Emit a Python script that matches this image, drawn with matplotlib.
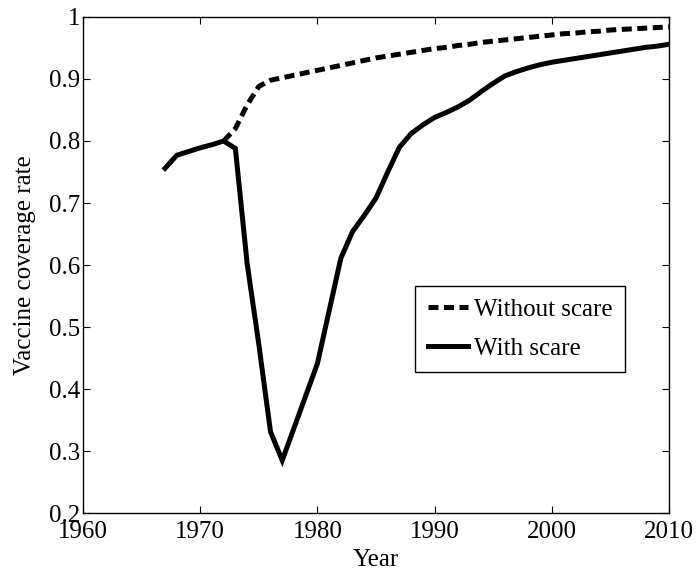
import numpy as np
import matplotlib.pyplot as plt

# values
years_scare = list(range(1967, 2011))
with_scare = [0.756, 0.777, 0.783, 0.789, 0.794, 0.800, 0.788, 0.603, 0.472, 0.331,
              0.285, 0.337, 0.389, 0.441, 0.526, 0.611, 0.654, 0.680, 0.708, 0.750,
              0.790, 0.812, 0.826, 0.838, 0.846, 0.855, 0.866, 0.880, 0.893, 0.905,
              0.912, 0.918, 0.923, 0.927, 0.930, 0.933, 0.936, 0.939, 0.942, 0.945,
              0.948, 0.951, 0.953, 0.956]

years_noscare = list(range(1972, 2011))
without_scare = [0.800, 0.820, 0.858, 0.888, 0.898, 0.902, 0.906, 0.910, 0.914, 0.918,
                 0.922, 0.926, 0.930, 0.934, 0.937, 0.940, 0.943, 0.946, 0.949, 0.951,
                 0.954, 0.956, 0.959, 0.961, 0.963, 0.965, 0.967, 0.969, 0.971, 0.973,
                 0.974, 0.976, 0.977, 0.979, 0.980, 0.981, 0.982, 0.983, 0.984]

xticks = [1960, 1970, 1980, 1990, 2000, 2010]
yticks = [0.2, 0.3, 0.4, 0.5, 0.6, 0.7, 0.8, 0.9, 1.0]

plt.rcParams['font.family'] = ['Liberation Serif', 'DejaVu Serif']
plt.rcParams['font.size'] = 18

fig = plt.figure(figsize=(7, 5.72), dpi=100)
ax = fig.add_axes([0.1186, 0.1031, 0.8371, 0.8672])

ax.plot(years_noscare, without_scare, color='k', lw=3.6, dashes=(2.0, 1.1),
        dash_capstyle='butt', label='Without scare')
ax.plot(years_scare, with_scare, color='k', lw=3.6, solid_joinstyle='miter',
        label='With scare')

ax.set_xlim(1960, 2010)
ax.set_ylim(0.2, 1.0)
ax.set_xticks(xticks)
ax.set_yticks(yticks)
ax.set_yticklabels(['%g' % v for v in yticks])
ax.tick_params(direction='in', top=True, right=True, length=5, width=0.8)
ax.tick_params(axis='x', pad=6)
ax.tick_params(axis='y', pad=2)
for sp in ax.spines.values():
    sp.set_linewidth(1.0)

ax.set_xlabel('Year', labelpad=4)
ax.set_ylabel('Vaccine coverage rate', labelpad=9)

leg = ax.legend(loc='upper left', bbox_to_anchor=(0.567, 0.458), borderaxespad=0,
                fancybox=False, edgecolor='k', framealpha=1, handlelength=1.6,
                handletextpad=0.25, labelspacing=0.65, borderpad=0.5)
leg.get_frame().set_linewidth(1.0)

fig.savefig('out.png', dpi=100)
